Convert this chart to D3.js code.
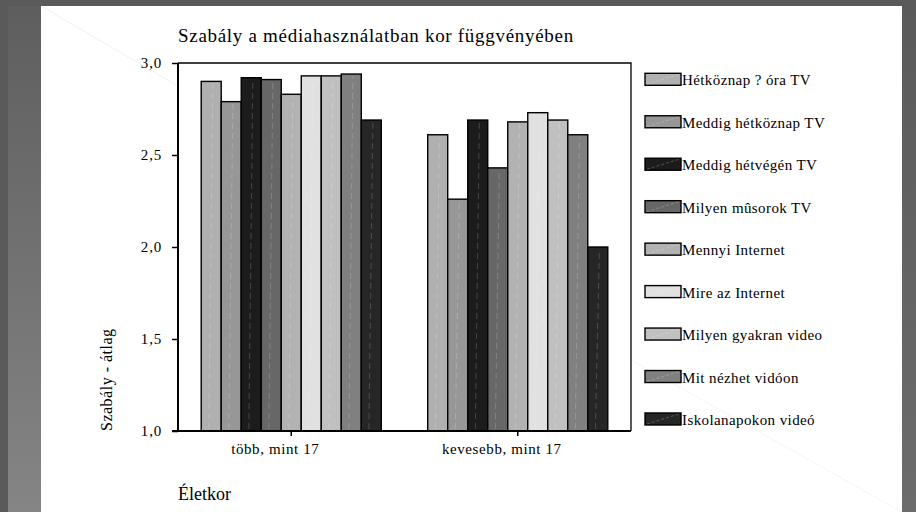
<!DOCTYPE html>
<html>
<head>
<meta charset="utf-8">
<script src="https://cdn.jsdelivr.net/npm/d3@7"></script>
<style>
html,body{margin:0;padding:0;background:#5a5a5a;}
svg{display:block;}
svg text{font-family:"Liberation Serif","Times New Roman",serif !important;fill:#000;}
</style>
</head>
<body>
<svg id="chart" width="916" height="512"></svg>
<script>
const categories = ["több, mint 17", "kevesebb, mint 17"];
const seriesNames = ["Hétköznap ? óra TV","Meddig hétköznap TV","Meddig hétvégén TV","Milyen mûsorok TV","Mennyi Internet","Mire az Internet","Milyen gyakran video","Mit nézhet vidóon","Iskolanapokon videó"];
const seriesColors = ["#b0b0b0","#979797","#1c1c1c","#676767","#b2b2b2","#e1e1e1","#c0c0c0","#808080","#262626"];
const valuesOver17 = [2.90, 2.79, 2.92, 2.91, 2.83, 2.93, 2.93, 2.94, 2.69];
const valuesUnder17 = [2.61, 2.26, 2.69, 2.43, 2.68, 2.73, 2.69, 2.61, 2.00];
const yTicks = [1.0, 1.5, 2.0, 2.5, 3.0];
const titleText = "Szabály a médiahasználatban kor függvényében";
const yLabel = "Szabály - átlag";
const xLabel = "Életkor";

const FONT = '"Liberation Serif","Times New Roman",serif';
const svg = d3.select("#chart").style("font-family", FONT);

// background frame
const defs = svg.append("defs");
const lg = defs.append("linearGradient").attr("id","leftStrip").attr("x1",0).attr("y1",0).attr("x2",0).attr("y2",1);
lg.append("stop").attr("offset","0").attr("stop-color","#5e5e5e");
lg.append("stop").attr("offset","1").attr("stop-color","#858585");
const rg = defs.append("linearGradient").attr("id","rightStrip").attr("x1",0).attr("y1",0).attr("x2",0).attr("y2",1);
rg.append("stop").attr("offset","0").attr("stop-color","#5a5a5a");
rg.append("stop").attr("offset","1").attr("stop-color","#6c6c6c");
svg.append("rect").attr("x",0).attr("y",0).attr("width",916).attr("height",512).attr("fill","#5a5a5a");
svg.append("rect").attr("x",8).attr("y",6).attr("width",33).attr("height",506).attr("fill","url(#leftStrip)");
svg.append("rect").attr("x",902).attr("y",6).attr("width",14).attr("height",506).attr("fill","url(#rightStrip)");
svg.append("rect").attr("x",41).attr("y",6).attr("width",861).attr("height",506).attr("fill","#ffffff");
// faint watermark diagonals
svg.append("line").attr("x1",41).attr("y1",6).attr("x2",178).attr("y2",86).attr("stroke","#eeeeee").attr("stroke-width",0.8);
svg.append("line").attr("x1",631).attr("y1",360).attr("x2",902).attr("y2",512).attr("stroke","#f2f2f2").attr("stroke-width",0.8);

const plot = {left:178, top:63, right:631, bottom:431};

const y = d3.scaleLinear().domain([1.0, 3.0]).range([plot.bottom, plot.top]);
const x0 = d3.scaleBand().domain(categories).range([plot.left, plot.right]).padding(0);
const x1 = d3.scaleBand().domain(seriesNames).range([0, x0.bandwidth()]).paddingInner(0).paddingOuter(1.16);
const color = d3.scaleOrdinal().domain(seriesNames).range(seriesColors);

const data = categories.map((c, i) => ({
  cat: c,
  vals: seriesNames.map((s, j) => ({series: s, value: (i === 0 ? valuesOver17 : valuesUnder17)[j]}))
}));

// bars
const groups = svg.append("g").selectAll("g").data(data).join("g")
  .attr("transform", d => `translate(${x0(d.cat)},0)`);
groups.selectAll("rect").data(d => d.vals).join("rect")
  .attr("x", d => x1(d.series))
  .attr("y", d => y(d.value))
  .attr("width", x1.bandwidth())
  .attr("height", d => y(1.0) - y(d.value))
  .attr("fill", d => color(d.series))
  .attr("stroke", "#000")
  .attr("stroke-width", 1.4);
groups.selectAll("line.sheen").data(d => d.vals).join("line")
  .attr("class","sheen")
  .attr("x1", d => x1(d.series) + x1.bandwidth()*0.38)
  .attr("y1", y(1.0) - 2)
  .attr("x2", d => x1(d.series) + x1.bandwidth()*0.58)
  .attr("y2", d => y(d.value) + 2)
  .attr("stroke", "#ffffff").attr("stroke-opacity", 0.18).attr("stroke-width", 1)
  .attr("stroke-dasharray", "6,4");

// frame top/right
svg.append("path")
  .attr("d", `M${plot.left},${plot.top}H${plot.right}V${plot.bottom}`)
  .attr("fill","none").attr("stroke","#000").attr("stroke-width",1.3);

// y axis
const yAxis = d3.axisLeft(y).tickValues(yTicks).tickSize(6).tickPadding(10)
  .tickFormat(d => d3.format(".1f")(d).replace(".", ","));
const gy = svg.append("g").attr("transform", `translate(${plot.left},0)`).call(yAxis)
  .attr("font-family", FONT).attr("font-size", 15);
gy.select(".domain").attr("d", `M0,${plot.top}V${plot.bottom}`).attr("stroke","#000").attr("stroke-width",2);
gy.selectAll(".tick line").attr("stroke","#000").attr("stroke-width",1.5);
gy.selectAll(".tick text").style("font-family", FONT).attr("font-size", 15).attr("letter-spacing", 0.8).attr("fill","#000");

// x axis
const xAxis = d3.axisBottom(x0).tickSize(5).tickPadding(7);
const gx = svg.append("g").attr("transform", `translate(0,${plot.bottom})`).call(xAxis)
  .attr("font-family", FONT).attr("font-size", 15);
gx.select(".domain").attr("d", `M${plot.left-6},0H${plot.right}`).attr("stroke","#000").attr("stroke-width",2);
gx.selectAll(".tick line").attr("stroke","#000").attr("stroke-width",1.5);
gx.selectAll(".tick text").style("font-family", FONT).attr("font-size", 15).attr("fill","#000")
  .attr("letter-spacing", 0.6).attr("dx", -16);

// title
svg.append("text").attr("x", 178).attr("y", 42).style("font-family", FONT).attr("font-size", 19).attr("letter-spacing", 0.7).text(titleText);
// y label
svg.append("text").attr("transform", "translate(112,431) rotate(-90)").style("font-family", FONT).attr("font-size", 16).attr("letter-spacing", 0.5).text(yLabel);
// x label
svg.append("text").attr("x", 178).attr("y", 500).style("font-family", FONT).attr("font-size", 18).text(xLabel);

// legend
const legend = svg.append("g").attr("transform", "translate(645,73.3)");
const items = legend.selectAll("g").data(seriesNames).join("g")
  .attr("transform", (d, i) => `translate(0,${i*42.46})`);
items.append("rect").attr("width", 36).attr("height", 12)
  .attr("fill", d => color(d)).attr("stroke", "#000").attr("stroke-width", 1.4);
items.append("line").attr("x1", 2).attr("y1", 11).attr("x2", 34).attr("y2", 1)
  .attr("stroke", "#fff").attr("stroke-opacity", 0.3).attr("stroke-width", 0.8).attr("stroke-dasharray","3,2");
items.append("text").attr("x", 37).attr("y", 12).style("font-family", FONT).attr("font-size", 15).attr("letter-spacing", 0.4).text(d => d);
</script>
</body>
</html>
